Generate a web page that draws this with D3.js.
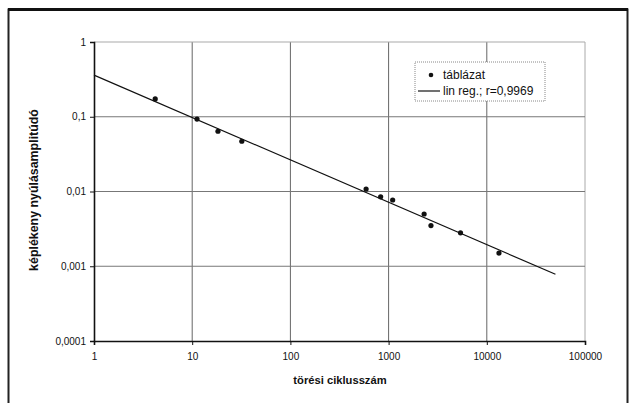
<!DOCTYPE html>
<html>
<head>
<meta charset="utf-8">
<script src="https://cdn.jsdelivr.net/npm/d3@7"></script>
<style>
  html, body { margin: 0; padding: 0; background: #fff; }
  svg { display: block; font-family: "Liberation Sans", Arial, sans-serif; }
</style>
</head>
<body>
<div id="chart"></div>
<script>
// mért pontok (törési ciklusszám, képlékeny nyúlásamplitúdó)
const cycles = [4.2, 11.2, 18.3, 32, 590, 830, 1100, 2300, 2700, 5400, 13300];
const strains = [0.173, 0.093, 0.064, 0.047, 0.0108, 0.0085, 0.0077, 0.0050, 0.0035, 0.0028, 0.0015];

// regressziós egyenes végpontjai
const regX = [1, 50000];
const regY = [0.36, 0.00078];

const xTicks = [1, 10, 100, 1000, 10000, 100000];
const xTickLabels = ['1', '10', '100', '1000', '10000', '100000'];
const yTicks = [0.0001, 0.001, 0.01, 0.1, 1];
const yTickLabels = ['0,0001', '0,001', '0,01', '0,1', '1'];

const width = 632, height = 403;
const margin = { top: 42, right: 47, bottom: 62, left: 94 };
const innerW = width - margin.left - margin.right;
const innerH = height - margin.top - margin.bottom;

const svg = d3.select('#chart').append('svg')
    .attr('width', width)
    .attr('height', height);

// külső keret
svg.append('rect')
    .attr('x', 8.5).attr('y', 9.5)
    .attr('width', 619).attr('height', 410)
    .attr('fill', '#fff')
    .attr('stroke', '#222')
    .attr('stroke-width', 2);
svg.append('line')
    .attr('x1', 8).attr('x2', 628).attr('y1', 9.5).attr('y2', 9.5)
    .attr('stroke', '#111').attr('stroke-width', 3);

const g = svg.append('g').attr('transform', `translate(${margin.left},${margin.top})`);

const x = d3.scaleLog().domain([1, 100000]).range([0, innerW]);
const y = d3.scaleLog().domain([0.0001, 1]).range([innerH, 0]);

// rácsvonalak
g.selectAll('.vgrid')
    .data(xTicks.slice(1))
    .enter().append('line')
    .attr('x1', d => x(d)).attr('x2', d => x(d))
    .attr('y1', 0).attr('y2', innerH)
    .attr('stroke', d => d === 100000 ? '#aaa' : '#666')
    .attr('stroke-width', 1);

g.selectAll('.hgrid')
    .data(yTicks.slice(1))
    .enter().append('line')
    .attr('x1', 0).attr('x2', innerW)
    .attr('y1', d => y(d)).attr('y2', d => y(d))
    .attr('stroke', d => d === 1 ? '#aaa' : '#777')
    .attr('stroke-width', 1.2);

// tengelyek
const yAxis = g.append('g')
    .call(d3.axisLeft(y).tickValues(yTicks).tickFormat((d, i) => yTickLabels[i]).tickSize(4).tickPadding(4));
const xAxis = g.append('g')
    .attr('transform', `translate(0,${innerH})`)
    .call(d3.axisBottom(x).tickValues(xTicks).tickFormat((d, i) => xTickLabels[i]).tickSize(4).tickPadding(8));

[xAxis, yAxis].forEach(a => {
    a.select('.domain').attr('stroke', '#111').attr('stroke-width', 1.6);
    a.selectAll('.tick line').attr('stroke', '#111');
    a.selectAll('text').attr('fill', '#111').style('font-size', '10px').style('font-family', '"Liberation Sans", Arial, sans-serif');
});

// regressziós egyenes
g.append('line')
    .attr('x1', x(regX[0])).attr('y1', y(regY[0]))
    .attr('x2', x(regX[1])).attr('y2', y(regY[1]))
    .attr('stroke', '#111')
    .attr('stroke-width', 1.2);

// pontok
g.selectAll('.pt')
    .data(cycles.map((c, i) => ({ c, s: strains[i] })))
    .enter().append('circle')
    .attr('cx', d => x(d.c))
    .attr('cy', d => y(d.s))
    .attr('r', 2.6)
    .attr('fill', '#111');

// tengelyfeliratok
svg.append('text')
    .attr('x', 340)
    .attr('y', 384)
    .attr('text-anchor', 'middle')
    .style('font-size', '11.2px')
    .style('font-weight', 'bold')
    .attr('fill', '#111')
    .text('törési ciklusszám');

svg.append('text')
    .attr('transform', 'translate(38,190) rotate(-90)')
    .attr('text-anchor', 'middle')
    .style('font-size', '12.4px')
    .style('font-weight', 'bold')
    .attr('fill', '#111')
    .text('képlékeny nyúlásamplitúdó');

// jelmagyarázat
const legend = svg.append('g').attr('transform', 'translate(415,62)');
legend.append('rect')
    .attr('width', 130).attr('height', 39)
    .attr('fill', '#fff')
    .attr('stroke', '#888')
    .attr('stroke-dasharray', '1,1');
legend.append('circle').attr('cx', 16).attr('cy', 13).attr('r', 2.3).attr('fill', '#111');
legend.append('text').attr('x', 28).attr('y', 17).style('font-size', '12px').attr('fill', '#111').text('táblázat');
legend.append('line').attr('x1', 3).attr('x2', 25).attr('y1', 29).attr('y2', 29).attr('stroke', '#111').attr('stroke-width', 1.2);
legend.append('text').attr('x', 28).attr('y', 33).style('font-size', '12px').attr('fill', '#111').text('lin reg.; r=0,9969');
</script>
</body>
</html>
